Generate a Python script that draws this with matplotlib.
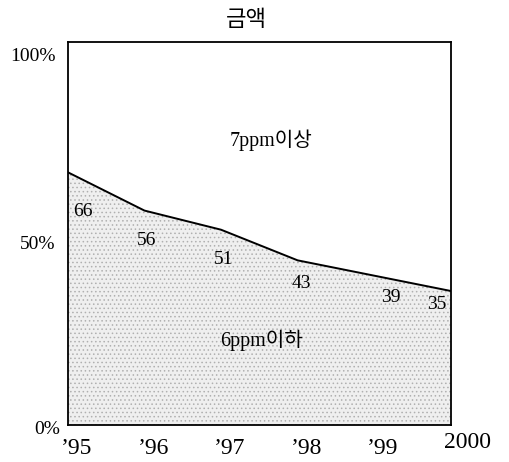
import matplotlib
matplotlib.use("Agg")
import matplotlib.pyplot as plt
import matplotlib.transforms as mtrans
import numpy as np

plt.rcParams['font.family'] = ['Liberation Serif', 'Noto Sans CJK KR', 'DejaVu Sans']
plt.rcParams['hatch.color'] = '#a0a0a0'
plt.rcParams['hatch.linewidth'] = 0.6

years = ["’95", "’96", "’97", "’98", "’99", "2000"]
low_share = [66, 56, 51, 43, 39, 35]   # 6ppm이하 (%)
title = "금액"
upper_label = "7ppm이상"
lower_label = "6ppm이하"
y_ticks = [0, 50, 100]
y_ticklabels = ["0%", "50%", "100%"]

fig = plt.figure(figsize=(5.10, 4.62), dpi=100)
ax = fig.add_axes([0.133, 0.080, 0.751, 0.829])
x = np.arange(len(years))

ax.fill_between(x, 0, low_share, facecolor='#efefef', hatch='....', edgecolor='#b0b0b0', linewidth=0)
ax.plot(x, low_share, color='black', linewidth=1.4)

ax.set_xlim(0, len(years) - 1)
ax.set_ylim(0, 100)
for s in ax.spines.values():
    s.set_linewidth(1.3)
    s.set_color('black')

ax.set_yticks(y_ticks)
ax.set_yticklabels(y_ticklabels, fontsize=14)
ax.tick_params(axis='y', length=0, pad=9)
ax.set_xticks(x)
ax.set_xticklabels(years, fontsize=17)
ax.tick_params(axis='x', length=0, pad=9)
xl_up = [0, 0, 0, 0, 0, 0.06]
for lbl, u in zip(ax.get_xticklabels(), xl_up):
    lbl.set_horizontalalignment('left')
    lbl.set_transform(lbl.get_transform() + mtrans.ScaledTranslation(-0.07, u, fig.dpi_scale_trans))
ydown = [0.02, 0.09, 0.12]
xshift = [0.05, 0.0, 0.0]
for lbl, d, s in zip(ax.get_yticklabels(), ydown, xshift):
    lbl.set_transform(lbl.get_transform() + mtrans.ScaledTranslation(s, -d, fig.dpi_scale_trans))

# value labels (pixel offsets from each vertex)
x_offsets = [15, 2, 3, 4, 17, -14]
y_offsets = [-39, -30, -30, -23, -22, -14]
for xi, v, dx, dy in zip(x, low_share, x_offsets, y_offsets):
    ax.annotate(str(v), (xi, v), xytext=(dx, dy), textcoords='offset pixels',
                ha='center', va='center', fontsize=14)

ax.text(2.65, 74.4, upper_label, ha='center', va='center', fontsize=14.5)
ax.text(2.53, 22.2, lower_label, ha='center', va='center', fontsize=14.5)

fig.text(0.484, 0.957, title, ha='center', va='center', fontsize=16,
         family=['Noto Sans CJK KR'])

fig.savefig("out.png", dpi=100)
